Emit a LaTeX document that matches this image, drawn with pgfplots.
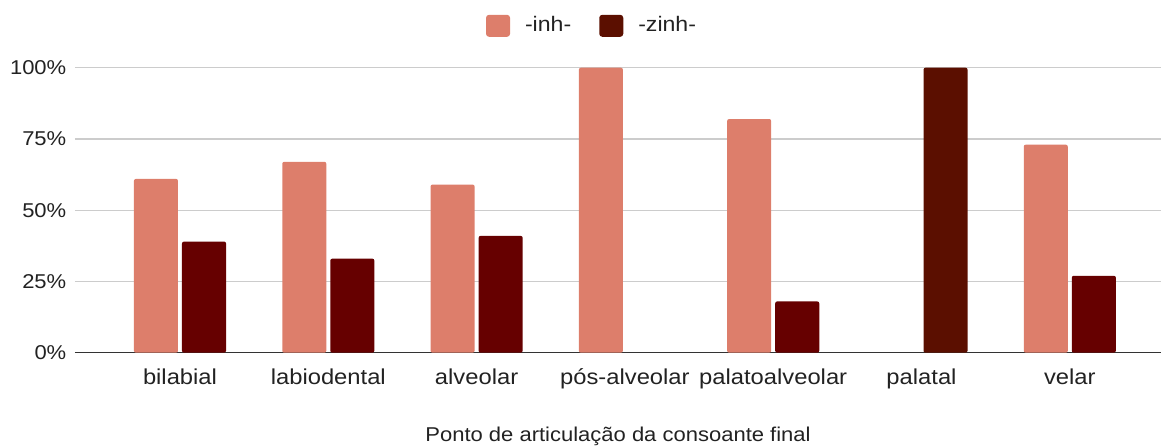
\documentclass[border=0pt]{standalone}
\usepackage{fontspec}
\setmainfont{Liberation Sans}[FakeStretch=1.1]
\usepackage{pgfplots}
\pgfplotsset{compat=1.18}
\definecolor{cinh}{HTML}{DD7E6B}
\definecolor{czinh}{HTML}{660000}
\definecolor{cpal}{HTML}{5B0F00}
\definecolor{cgrid}{HTML}{CCCCCC}
\definecolor{ctext}{HTML}{222222}
\begin{document}
\begin{tikzpicture}
\path[use as bounding box] (-37.5pt,-46.65pt) rectangle (543pt,176.35pt);
\begin{axis}[
  at={(0,0)}, anchor=south west,
  scale only axis, width=543pt, height=142.5pt,
  xmin=-0.708, xmax=6.615, ymin=0, ymax=100,
  ybar,
  axis x line*=bottom, axis y line*=left,
  x axis line style={draw=black!80, line width=0.75pt},
  y axis line style={draw=none},
  major tick length=0pt, tick style={draw=none},
  ymajorgrids, grid style={draw=cgrid, line width=0.6pt},
  ytick={0,25,50,75,100},
  yticklabels={0\%,25\%,50\%,75\%,100\%},
  yticklabel style={anchor=east, inner sep=0pt, xshift=-4.15pt, font=\fontsize{10}{12}\selectfont, text=ctext},
  xtick={0,1,2,3,4,5,6},
  xticklabels={bilabial,labiodental,alveolar,pós-alveolar,palatoalveolar,palatal,velar},
  xticklabel style={anchor=base, yshift=-15.65pt, font=\fontsize{10.8}{13}\selectfont, text=ctext},
  /pgf/number format/assume math mode=true,
  xlabel={Ponto de articulação da consoante final},
  xlabel style={at={(axis description cs:0.5,0)}, anchor=base, yshift=-44.5pt, font=\fontsize{10}{12}\selectfont, text=ctext},
  legend style={at={(0.4770,1.147)}, anchor=center, draw=none, fill=none,
    font=\fontsize{10.5}{12}\selectfont, text=ctext,
    /tikz/every even column/.append style={column sep=12pt}},
  legend columns=2,
  legend image code/.code={\fill[#1, rounded corners=1.5pt] (0pt,-5.5pt) rectangle (12pt,5.5pt); \path (17.5pt,0pt);},
]
\addplot[ybar, bar width=0.297, bar shift=-0.162, fill=cinh, draw=none, rounded corners=1pt, forget plot]
  coordinates {(0,61) (1,67) (2,59) (3,100) (4,82) (6,73)};
\addplot[ybar, bar width=0.297, bar shift=0.162, fill=czinh, draw=none, rounded corners=1pt, forget plot]
  coordinates {(0,39) (1,33) (2,41) (4,18) (6,27)};
\addplot[ybar, bar width=0.297, bar shift=0.162, fill=cpal, draw=none, rounded corners=1pt, forget plot]
  coordinates {(5,100)};
\addlegendimage{fill=cinh, draw=none}
\addlegendentry{-inh-}
\addlegendimage{fill=cpal, draw=none}
\addlegendentry{-zinh-}
\end{axis}
\end{tikzpicture}
\end{document}
